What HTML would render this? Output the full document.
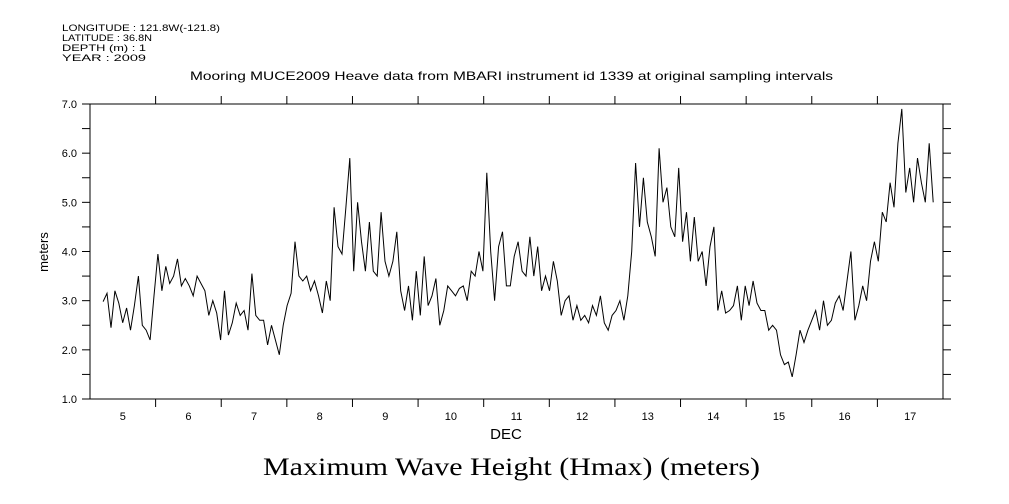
<!DOCTYPE html>
<html><head><meta charset="utf-8"><style>
html,body{margin:0;padding:0;background:#fff;}
svg{display:block;font-family:"Liberation Sans",sans-serif;}
</style></head><body>
<svg id="chart" width="1009" height="504" viewBox="0 0 1009 504">
<g font-size="9" fill="#000">
<text x="62" y="31" textLength="158" lengthAdjust="spacingAndGlyphs">LONGITUDE : 121.8W(-121.8)</text>
<text x="62" y="41" textLength="90" lengthAdjust="spacingAndGlyphs">LATITUDE : 36.8N</text>
<text x="62" y="51" textLength="84" lengthAdjust="spacingAndGlyphs">DEPTH (m) : 1</text>
<text x="62" y="61" textLength="84" lengthAdjust="spacingAndGlyphs">YEAR : 2009</text>
</g>
<text x="190" y="80" textLength="643" lengthAdjust="spacingAndGlyphs" font-size="12">Mooring MUCE2009 Heave data from MBARI instrument id 1339 at original sampling intervals</text>
<rect x="90" y="104" width="853" height="295" fill="none" stroke="#000" stroke-width="1"/>
<g id="yaxis"></g>
<g id="xaxis"></g>
<text transform="translate(48,252) rotate(-90)" text-anchor="middle" font-size="13">meters</text>
<text x="506" y="439" text-anchor="middle" font-size="15">DEC</text>
<text x="263" y="475" textLength="497" lengthAdjust="spacingAndGlyphs" font-size="25" font-family="'Liberation Serif',serif">Maximum Wave Height (Hmax) (meters)</text>
<path id="series" fill="none" stroke="#000" stroke-width="1"/>
</svg>
<script>
const yTicks=[1.0,2.0,3.0,4.0,5.0,6.0,7.0];
const dayLabels=[5,6,7,8,9,10,11,12,13,14,15,16,17];
const tStart=5.2, tEnd=17.85;
const hmax=[
2.98,3.15,2.45,3.2,2.95,2.55,2.85,2.4,2.9,3.5,2.5,2.4,2.2,3.1,3.95,3.2,3.7,3.35,3.5,3.85,3.3,3.45,3.3,3.1,3.5,3.35,3.2,2.7,3.0,2.75,2.2,3.2,2.3,2.55,2.95,2.7,2.8,2.4,3.55,2.7,2.6,2.6,2.1,2.5,2.2,1.9,2.5,2.9,3.15,4.2,3.5,3.4,
3.5,3.2,3.4,3.1,2.75,3.4,3.0,4.9,4.1,3.95,4.9,5.9,3.6,5.0,4.2,3.6,4.6,3.6,3.5,4.8,3.8,3.5,3.8,4.4,3.2,2.8,3.3,2.6,3.6,2.7,3.9,2.9,3.1,3.45,2.5,2.8,3.3,3.2,3.1,3.25,3.3,3.0,3.6,3.5,4.0,3.6,5.6,4.0,3.0,4.1,4.4,3.3,3.3,3.9,
4.2,3.6,3.5,4.3,3.5,4.1,3.2,3.5,3.2,3.8,3.4,2.7,3.0,3.1,2.6,2.9,2.6,2.7,2.55,2.9,2.7,3.1,2.55,2.4,2.7,2.8,3.0,2.6,3.1,4.0,5.8,4.5,5.5,4.6,4.3,3.9,6.1,5.0,5.3,4.5,4.3,5.7,4.2,4.8,3.8,4.7,3.8,4.0,3.3,4.1,4.5,2.8,3.2,2.75,
2.8,2.9,3.3,2.6,3.3,2.9,3.4,2.95,2.8,2.8,2.4,2.5,2.4,1.9,1.7,1.75,1.45,1.9,2.4,2.15,2.4,2.6,2.8,2.4,3.0,2.5,2.6,2.95,3.1,2.8,3.4,4.0,2.6,2.9,3.3,3.0,3.8,4.2,3.8,4.8,4.6,5.4,4.9,6.2,6.9,5.2,5.7,5.0,5.9,5.4,5.0,6.2,5.0
];
const X0=90,X1=943,Y0=399,Y1=104,D0=5,D1=18,V0=1,V1=7;
const xs=t=>X0+(t-D0)/(D1-D0)*(X1-X0);
const ys=v=>Y0-(v-V0)/(V1-V0)*(Y0-Y1);
const NS='http://www.w3.org/2000/svg';
const yg=document.getElementById('yaxis');
const xg=document.getElementById('xaxis');
function line(g,x1,y1,x2,y2){const l=document.createElementNS(NS,'line');l.setAttribute('x1',x1);l.setAttribute('y1',y1);l.setAttribute('x2',x2);l.setAttribute('y2',y2);l.setAttribute('stroke','#000');g.appendChild(l);return l;}
for(let v=V0;v<=V1+1e-9;v+=0.5){
  const y=ys(v);
  const a=line(yg,X0-8,y,X0,y);
  
  
  const b=line(yg,X1,y,X1+8,y);
  
  
}
yTicks.forEach(v=>{
  const t=document.createElementNS(NS,'text');
  t.setAttribute('x',X0-13);t.setAttribute('y',ys(v)+4);
  t.setAttribute('text-anchor','end');t.setAttribute('font-size','11');
  t.textContent=v.toFixed(1);
  
  
  yg.appendChild(t);
});
for(let d=D0+1;d<D1;d++){
  const x=xs(d);
  const a=line(xg,x,Y0,x,Y0+8);
  
  
  const b=line(xg,x,Y1-8,x,Y1);
  
  
}
dayLabels.forEach(d=>{
  const t=document.createElementNS(NS,'text');
  t.setAttribute('x',xs(d+0.5));t.setAttribute('y',Y0+21);
  t.setAttribute('text-anchor','middle');t.setAttribute('font-size','11');
  t.textContent=d;
  
  
  xg.appendChild(t);
});
const n=hmax.length;
let dstr='';
hmax.forEach((v,i)=>{const t=tStart+(tEnd-tStart)*i/(n-1);dstr+=(i?'L':'M')+xs(t).toFixed(1)+' '+ys(v).toFixed(1);});
document.getElementById('series').setAttribute('d',dstr);
</script>
</body></html>
